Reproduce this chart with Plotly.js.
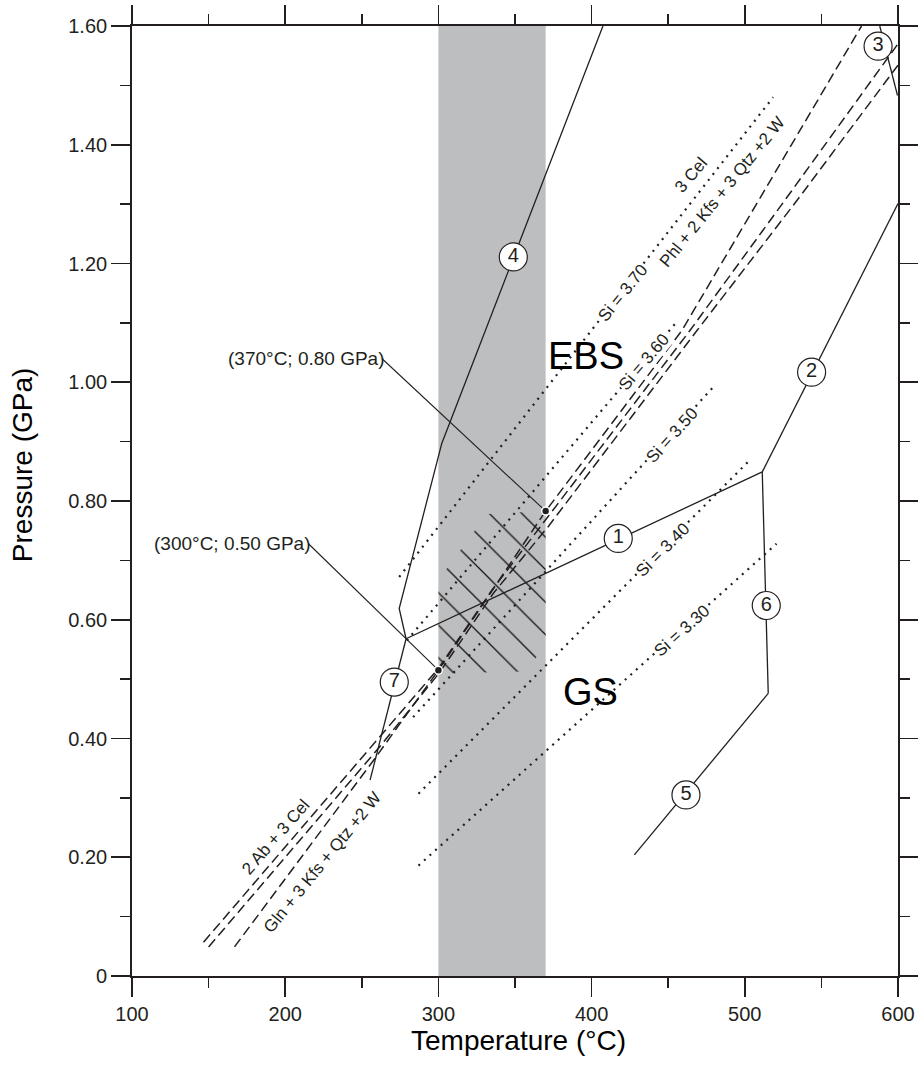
<!DOCTYPE html>
<html><head><meta charset="utf-8">
<script src="https://cdn.plot.ly/plotly-3.0.1.min.js"></script>
<style>html,body{margin:0;padding:0;background:#fff;} #chart{width:918px;height:1071px;}</style>
</head><body><div id="chart"></div>
<script>
// ---------- data (temperature °C, pressure GPa) ----------
const xTickVals = [100, 200, 300, 400, 500, 600];
const yTickVals = [0, 0.2, 0.4, 0.6, 0.8, 1.0, 1.2, 1.4, 1.6];
const yTickText = ['0', '0.20', '0.40', '0.60', '0.80', '1.00', '1.20', '1.40', '1.60'];

const bandT = [300, 370];

const hatchT = [331.8, 370, 370, 356.6, 300, 300, 331.8];
const hatchP = [0.778, 0.783, 0.557, 0.513, 0.509, 0.667, 0.778];

// solid reaction curves
const curve4T = [407.4, 302.2, 274.4, 278.9];
const curve4P = [1.600, 0.897, 0.619, 0.568];
const curve7T = [278.9, 255.4];
const curve7P = [0.568, 0.330];
const curve1T = [278.9, 511.4];
const curve1P = [0.568, 0.849];
const curve2T = [511.4, 600];
const curve2P = [0.849, 1.301];
const curve6T = [511.4, 515.3];
const curve6P = [0.849, 0.476];
const curve5T = [515.3, 427.9];
const curve5P = [0.476, 0.204];
const curve3T = [588.1, 599.7];
const curve3P = [1.600, 1.483];

// dashed reaction curves
const pairAT = [146.7, 259.8, 300, 335, 370, 464.3, 526, 600];
const pairAP = [0.057, 0.397, 0.518, 0.650, 0.768, 1.0875, 1.306, 1.570];
const pairBT = [150, 262, 301, 336, 372, 468.9, 534, 600];
const pairBP = [0.049, 0.387, 0.512, 0.645, 0.758, 1.0875, 1.306, 1.534];
const singleT = [166.9, 257.6, 300, 370, 459, 576.2];
const singleP = [0.049, 0.363, 0.515, 0.783, 1.0875, 1.600];

// dotted Si isopleths
const si370T = [274.4, 518.5], si370P = [0.672, 1.480];
const si360T = [279.4, 455.0], si360P = [0.565, 1.100];
const si350T = [283.5, 480.5], si350P = [0.436, 0.995];
const si340T = [287.0, 503.3], si340P = [0.307, 0.869];
const si330T = [287.0, 520.7], si330P = [0.186, 0.728];

// numbered curve labels
const circleT = [417.4, 543.6, 587.0, 348.9, 461.6, 514.0, 271.2];
const circleP = [0.737, 1.017, 1.566, 1.211, 0.305, 0.624, 0.495];
const circleText = ['1', '2', '3', '4', '5', '6', '7'];

// marked P-T points and their leaders
const pointT = [300, 370];
const pointP = [0.515, 0.783];
const pointText = ['(300°C; 0.50 GPa)', '(370°C; 0.80 GPa)'];
const leader300T = [215.2, 300], leader300P = [0.728, 0.515];
const leader370T = [263.1, 370], leader370P = [1.040, 0.783];

// text labels
const siText = ['Si = 3.70', 'Si = 3.60', 'Si = 3.50', 'Si = 3.40', 'Si = 3.30'];
const siLabelT = [420.7, 434.5, 452.3, 446.8, 459.2];
const siLabelP = [1.151, 1.035, 0.911, 0.718, 0.582];
const siAngle = [-51, -50, -48, -45, -42];
const rxnText = ['3 Cel', 'Phl + 2 Kfs + 3 Qtz +2 W', '2 Ab + 3 Cel', 'Gln + 3 Kfs + Qtz +2 W'];
const rxnLabelT = [464.6, 485.4, 193.5, 224.3];
const rxnLabelP = [1.349, 1.322, 0.234, 0.191];
const rxnAngle = [-50, -51, -49, -51];
const faciesText = ['EBS', 'GS'];
const faciesT = [396.2, 399.4];
const faciesP = [1.045, 0.479];

// ---------- styling ----------
const INK = '#231f20';
const FONT = 'Liberation Sans, Arial, Helvetica, sans-serif';

function solid(x, y) {
  return {x, y, type: 'scatter', mode: 'lines', hoverinfo: 'skip',
          line: {color: INK, width: 1.3}};
}
function dashed(x, y) {
  return {x, y, type: 'scatter', mode: 'lines', hoverinfo: 'skip',
          line: {color: INK, width: 1.5, dash: '10px,5px'}};
}
function dotted(x, y) {
  return {x, y, type: 'scatter', mode: 'lines', hoverinfo: 'skip',
          line: {color: INK, width: 2.2, dash: '2px,5.5px'}};
}

const traces = [
  {x: hatchT, y: hatchP, type: 'scatter', mode: 'lines', fill: 'toself',
   fillcolor: 'rgba(0,0,0,0)', line: {width: 0, color: 'rgba(0,0,0,0)'}, hoverinfo: 'skip',
   fillpattern: {shape: '\\', size: 23, solidity: 0.055, fgcolor: '#111111', bgcolor: 'rgba(0,0,0,0)'}},
  dotted(si370T, si370P), dotted(si360T, si360P), dotted(si350T, si350P),
  dotted(si340T, si340P), dotted(si330T, si330P),
  dashed(pairAT, pairAP), dashed(pairBT, pairBP), dashed(singleT, singleP),
  solid(curve4T, curve4P), solid(curve7T, curve7P), solid(curve1T, curve1P),
  solid(curve2T, curve2P), solid(curve6T, curve6P), solid(curve5T, curve5P),
  solid(curve3T, curve3P),
  {x: leader300T, y: leader300P, type: 'scatter', mode: 'lines', hoverinfo: 'skip', line: {color: INK, width: 1.1}},
  {x: leader370T, y: leader370P, type: 'scatter', mode: 'lines', hoverinfo: 'skip', line: {color: INK, width: 1.1}},
  {x: pointT, y: pointP, type: 'scatter', mode: 'markers', hoverinfo: 'skip',
   marker: {size: 8, color: INK, line: {color: '#ffffff', width: 1.5}}},
  {x: circleT, y: circleP, text: circleText, type: 'scatter', mode: 'markers+text',
   textposition: 'middle center', hoverinfo: 'skip', cliponaxis: false,
   textfont: {family: FONT, size: 20, color: INK},
   marker: {size: 28, color: '#ffffff', line: {color: INK, width: 1.2}}}
];

const annotations = [];
siText.forEach((t, i) => annotations.push({
  x: siLabelT[i], y: siLabelP[i], text: t, showarrow: false, textangle: siAngle[i],
  font: {family: FONT, size: 17, color: INK}, bgcolor: '#ffffff', borderpad: 0}));
rxnText.forEach((t, i) => annotations.push({
  x: rxnLabelT[i], y: rxnLabelP[i], text: t, showarrow: false, textangle: rxnAngle[i],
  font: {family: FONT, size: 17, color: INK}}));
faciesText.forEach((t, i) => annotations.push({
  x: faciesT[i], y: faciesP[i], text: t, showarrow: false,
  font: {family: FONT, size: 38, color: '#000000'}}));
annotations.push({x: leader300T[0], y: leader300P[0], text: pointText[0], showarrow: false,
  xanchor: 'right', yanchor: 'middle', xshift: 5, font: {family: FONT, size: 19, color: INK}});
annotations.push({x: leader370T[0], y: leader370P[0], text: pointText[1], showarrow: false,
  xanchor: 'right', yanchor: 'middle', xshift: 5, font: {family: FONT, size: 19, color: INK}});
annotations.push({xref: 'paper', yref: 'paper', x: 0.504, y: -0.068, text: 'Temperature (°C)',
  showarrow: false, xanchor: 'center', yanchor: 'middle', font: {family: FONT, size: 28, color: '#000'}});
annotations.push({xref: 'paper', yref: 'paper', x: -0.142, y: 0.538, text: 'Pressure (GPa)',
  showarrow: false, textangle: -90, xanchor: 'center', yanchor: 'middle', font: {family: FONT, size: 28, color: '#000'}});

const axisCommon = {
  showgrid: false, zeroline: false, showline: true, linecolor: INK, linewidth: 1.8,
  mirror: 'ticks', ticks: 'outside', ticklen: 19, tickwidth: 1.6, tickcolor: INK,
  tickfont: {family: FONT, size: 20, color: INK}
};

const layout = {
  width: 918, height: 1071,
  margin: {l: 132, r: 20, t: 26, b: 95},
  paper_bgcolor: '#ffffff', plot_bgcolor: '#ffffff',
  showlegend: false,
  xaxis: Object.assign({}, axisCommon, {range: [100, 600], tickvals: xTickVals,
    ticktext: xTickVals.map(String),
    minor: {dtick: 50, tick0: 100, ticks: 'outside', ticklen: 10, tickwidth: 1.6, tickcolor: INK}}),
  yaxis: Object.assign({}, axisCommon, {range: [0, 1.6], tickvals: yTickVals, ticktext: yTickText,
    minor: {dtick: 0.1, tick0: 0, ticks: 'outside', ticklen: 10, tickwidth: 1.6, tickcolor: INK}}),
  shapes: [{type: 'rect', xref: 'x', yref: 'paper', x0: bandT[0], x1: bandT[1], y0: 0, y1: 1,
            fillcolor: '#bdbec0', line: {width: 0}, layer: 'below'}],
  annotations
};

Plotly.newPlot('chart', traces, layout, {displayModeBar: false, staticPlot: true});
</script></body></html>
